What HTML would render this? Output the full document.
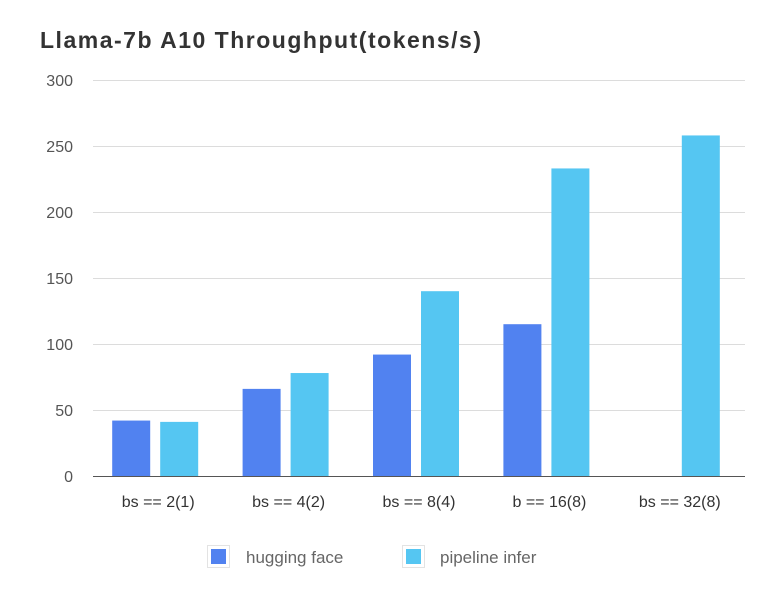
<!DOCTYPE html>
<html><head><meta charset="utf-8"><style>
body{margin:0;background:#fff;}
svg{display:block;font-family:"Liberation Sans",sans-serif;}
</style></head><body>
<svg id="chart" width="784" height="604">
<text x="40" y="48" font-size="23" font-weight="bold" fill="#333" textLength="441" lengthAdjust="spacing">Llama-7b A10 Throughput(tokens/s)</text>
<g id="grid"></g><g id="bars"></g><g id="xlabels"></g>
<g>
<g>
<rect x="207.5" y="545.5" width="22" height="22" fill="#fff" stroke="#e3e3e3"/>
<rect x="211" y="549" width="15" height="15" fill="#5182f0"/>
<text x="246" y="563" font-size="17" fill="#666">hugging face</text></g>
<g>
<rect x="402.5" y="545.5" width="22" height="22" fill="#fff" stroke="#e3e3e3"/>
<rect x="406" y="549" width="15" height="15" fill="#55c6f2"/>
<text x="440" y="563" font-size="17" fill="#666">pipeline infer</text></g>
</g>
</svg>
<script>
const categories=["bs == 2(1)","bs == 4(2)","bs == 8(4)","b == 16(8)","bs == 32(8)"];
const huggingFace=[42,66,92,115,0];
const pipelineInfer=[41,78,140,233,258];
const yTicks=[0,50,100,150,200,250,300];
const NS="http://www.w3.org/2000/svg";
const x0=93,x1=745,yTop=80,yBot=476,yMax=300;
const y=v=>yBot-(v/yMax)*(yBot-yTop);
const bw=(x1-x0)/categories.length;
const xc=i=>x0+bw*(i+0.5);
function mk(t,a,p){const e=document.createElementNS(NS,t);for(const k in a)e.setAttribute(k,a[k]);p.appendChild(e);return e;}
const grid=document.getElementById('grid');
yTicks.forEach(v=>{
  const l=mk('line',{x1:x0,x2:x1,y1:y(v)+0.5,y2:y(v)+0.5,stroke:v===0?'#555':'#dcdcdc','stroke-width':1},grid);
  
  
  const t=mk('text',{x:73,y:y(v)+6,'text-anchor':'end','font-size':16,fill:'#555'},grid);
  t.textContent=v;
  
  
});
const bars=document.getElementById('bars');
categories.forEach((c,i)=>{
  const hv=huggingFace[i],pv=pipelineInfer[i];
  const a=mk('rect',{x:xc(i)-46,y:y(hv),width:38,height:yBot-y(hv),fill:'#5182f0'},bars);
  
  
  const b=mk('rect',{x:xc(i)+2,y:y(pv),width:38,height:yBot-y(pv),fill:'#55c6f2'},bars);
  
  
  const t=mk('text',{x:xc(i),y:507,'text-anchor':'middle','font-size':16,fill:'#333'},document.getElementById('xlabels'));
  t.textContent=c;
  
  
});
</script>
</body></html>
